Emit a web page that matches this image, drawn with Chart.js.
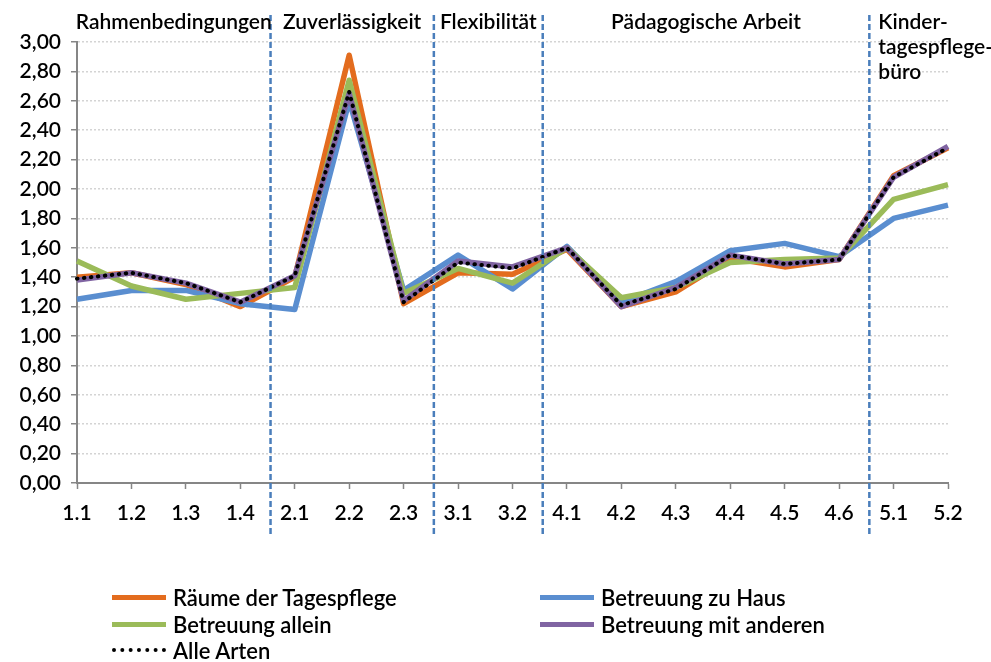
<!DOCTYPE html>
<html>
<head>
<meta charset="utf-8">
<script src="https://cdn.jsdelivr.net/npm/chart.js@4/dist/chart.umd.min.js"></script>
<style>
  html, body { margin: 0; padding: 0; background: #fff; }
  #wrap { position: relative; width: 991px; height: 662px; font-family: Lato, "Open Sans", sans-serif; }
  #legend { position: absolute; left: 0; top: 0; width: 991px; height: 662px; pointer-events: none; }
  .li { position: absolute; display: flex; align-items: center; font-size: 22px; font-weight: 600; color: #000; white-space: nowrap; height: 26px; }
  .sw { width: 54px; height: 0; margin-right: 7px; }
</style>
</head>
<body>
<div id="wrap">
  <canvas id="c" width="991" height="662"></canvas>
  <div id="legend"></div>
</div>
<script>
const categories = ['1.1','1.2','1.3','1.4','2.1','2.2','2.3','3.1','3.2','4.1','4.2','4.3','4.4','4.5','4.6','5.1','5.2'];

const raeumeDerTagespflege = [1.40, 1.43, 1.35, 1.20, 1.40, 2.91, 1.22, 1.43, 1.42, 1.59, 1.20, 1.30, 1.53, 1.47, 1.52, 2.09, 2.28];
const betreuungZuHaus      = [1.25, 1.31, 1.31, 1.22, 1.18, 2.60, 1.31, 1.55, 1.32, 1.61, 1.23, 1.37, 1.58, 1.63, 1.54, 1.80, 1.89];
const betreuungAllein      = [1.51, 1.34, 1.25, 1.29, 1.33, 2.74, 1.29, 1.46, 1.36, 1.60, 1.26, 1.33, 1.50, 1.52, 1.53, 1.93, 2.03];
const betreuungMitAnderen  = [1.38, 1.43, 1.36, 1.23, 1.41, 2.65, 1.24, 1.51, 1.47, 1.60, 1.20, 1.33, 1.55, 1.49, 1.52, 2.08, 2.29];
const alleArten            = [1.39, 1.43, 1.36, 1.23, 1.41, 2.66, 1.23, 1.50, 1.46, 1.60, 1.21, 1.32, 1.55, 1.49, 1.52, 2.08, 2.28];

const seriesNames = ['Räume der Tagespflege', 'Betreuung zu Haus', 'Betreuung allein', 'Betreuung mit anderen', 'Alle Arten'];

// sections: label lines, first and last category index
const sectionLabels = [['Rahmenbedingungen'], ['Zuverlässigkeit'], ['Flexibilität'], ['Pädagogische Arbeit'], ['Kinder-', 'tagespflege-', 'büro']];
const sectionStarts = [0, 4, 7, 9, 15];
const sectionEnds   = [3, 6, 8, 14, 16];

const yMin = 0, yMax = 3, yStep = 0.2;

const colors = ['#E36C1E', '#5A8ED0', '#9BBB59', '#8064A2', '#000000'];
const seriesData = [raeumeDerTagespflege, betreuungZuHaus, betreuungAllein, betreuungMitAnderen, alleArten];

const FONT = 'Lato, "Open Sans", sans-serif';

const datasets = seriesData.map((d, i) => ({
  label: seriesNames[i],
  data: d,
  borderColor: colors[i],
  backgroundColor: colors[i],
  borderWidth: i === 4 ? 4 : 5.5,
  borderDash: i === 4 ? [0.5, 6.5] : [],
  borderCapStyle: i === 4 ? 'round' : 'butt',
  borderJoinStyle: 'round',
  pointRadius: 0,
  tension: 0,
  fill: false,
  order: 5 - i
}));

const sectionPlugin = {
  id: 'sections',
  afterDatasetsDraw(chart) {
    const ctx = chart.ctx;
    const xs = chart.scales.x;
    const ca = chart.chartArea;
    const dividers = [];
    for (let s = 1; s < sectionStarts.length; s++) {
      dividers.push(xs.getPixelForValue((sectionEnds[s - 1] + sectionStarts[s]) / 2) + 3);
    }
    ctx.save();
    ctx.strokeStyle = '#4A7EBB';
    ctx.lineWidth = 2.5;
    ctx.setLineDash([6, 3]);
    dividers.forEach(x => {
      ctx.beginPath();
      ctx.moveTo(x, 15);
      ctx.lineTo(x, ca.bottom + 54);
      ctx.stroke();
    });
    ctx.setLineDash([]);
    ctx.fillStyle = '#000';
    ctx.font = '600 21px ' + FONT;
    ctx.textBaseline = 'middle';
    const bounds = [ca.left].concat(dividers).concat([ca.right]);
    sectionLabels.forEach((lines, s) => {
      const l = bounds[s], r = bounds[s + 1];
      if (lines.length > 1) {
        ctx.textAlign = 'left';
        lines.forEach((t, k) => ctx.fillText(t, l + 9, 22 + k * 25));
      } else {
        ctx.textAlign = 'center';
        ctx.fillText(lines[0], (l + r) / 2, 22);
      }
    });
    ctx.restore();
  }
};

new Chart(document.getElementById('c'), {
  type: 'line',
  data: { labels: categories, datasets },
  options: {
    responsive: false,
    animation: false,
    events: [],
    layout: { padding: { left: 0, right: 43, top: 42, bottom: 119 } },
    plugins: { legend: { display: false }, tooltip: { enabled: false } },
    scales: {
      x: {
        offset: false,
        grid: { display: true, drawOnChartArea: false, drawTicks: true, tickLength: 6, tickColor: '#868686', tickWidth: 1.5 },
        border: { display: true, color: '#868686', width: 2 },
        ticks: { color: '#000', font: { family: FONT, size: 21, weight: 600 }, padding: 12, maxRotation: 0, autoSkip: false },
        afterFit(s) { s.height = 60; }
      },
      y: {
        min: yMin, max: yMax,
        grid: { color: '#d4d4d4', lineWidth: 1.5, drawTicks: true, tickLength: 6, tickColor: '#868686', tickWidth: 1.5 },
        border: { display: true, color: '#868686', width: 2, dash: [2, 2] },
        ticks: {
          stepSize: yStep, color: '#000', font: { family: FONT, size: 21, weight: 600 }, padding: 10,
          callback: v => v.toFixed(2).replace('.', ',')
        },
        afterFit(s) { s.width = 77; }
      }
    }
  },
  plugins: [sectionPlugin]
});

// legend (two columns, items in reading order)
const legend = document.getElementById('legend');
const colX = [112, 540];
const rowY = [584, 611, 637];
seriesNames.forEach((name, i) => {
  const item = document.createElement('div');
  item.className = 'li';
  item.style.left = colX[i % 2] + 'px';
  item.style.top = rowY[Math.floor(i / 2)] + 'px';
  const sw = document.createElement('div');
  sw.className = 'sw';
  sw.style.borderTop = i === 4 ? '4px dotted ' + colors[i] : '5px solid ' + colors[i];
  const tx = document.createElement('span');
  tx.textContent = name;
  item.appendChild(sw);
  item.appendChild(tx);
  legend.appendChild(item);
});
</script>
</body>
</html>
